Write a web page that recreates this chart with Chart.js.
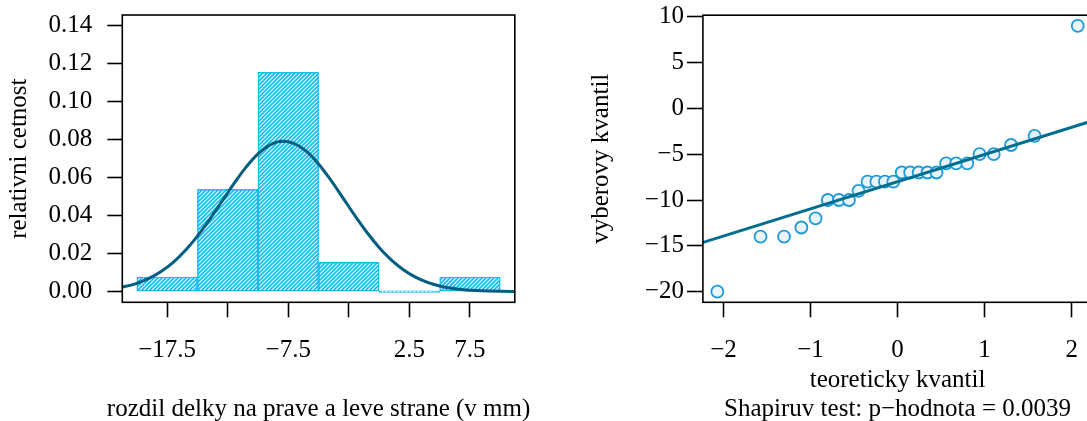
<!DOCTYPE html>
<html>
<head>
<meta charset="utf-8">
<script src="https://cdn.jsdelivr.net/npm/chart.js@4.4.1/dist/chart.umd.min.js"></script>
<style>
  html, body { margin: 0; padding: 0; background: #fff; overflow: hidden; }
  #wrap { position: relative; width: 1087px; height: 421px; overflow: hidden; }
  #histChart { position: absolute; left: 0; top: 0; }
  #qqChart { position: absolute; left: 540px; top: 0; }
</style>
</head>
<body>
<div id="wrap">
  <canvas id="histChart" width="540" height="421"></canvas>
  <canvas id="qqChart" width="560" height="421"></canvas>
</div>
<script>
// histogram (bins of width 5 from -20 to 10)
const binMids = [-17.5, -12.5, -7.5, -2.5, 2.5, 7.5];
const binDensity = [0.0077, 0.0538, 0.1154, 0.0154, 0, 0.0077];
const histXLabels = ['−17.5', '', '−7.5', '', '2.5', '7.5'];
const densTicks = [0, 0.02, 0.04, 0.06, 0.08, 0.10, 0.12, 0.14];
const densLabels = ['0.00', '0.02', '0.04', '0.06', '0.08', '0.10', '0.12', '0.14'];
const histXTitle = 'rozdil delky na prave a leve strane (v mm)';

// normal density curve
const curveX = [-22, -21, -20, -19, -18, -17, -16, -15, -14, -13, -12, -11, -10, -9, -8, -7, -6,
  -5, -4, -3, -2, -1, 0, 1, 2, 3, 4, 5, 6, 7, 8, 9, 10, 11, 12];
const curveY = [0.00157, 0.00268, 0.00440, 0.00696, 0.01057, 0.01543, 0.02166, 0.02923, 0.03792,
  0.04730, 0.05672, 0.06540, 0.07249, 0.07725, 0.07914, 0.07795, 0.07381, 0.06720, 0.05882,
  0.04949, 0.04003, 0.03114, 0.02328, 0.01673, 0.01157, 0.00769, 0.00491, 0.00301, 0.00178,
  0.00101, 0.00055, 0.00029, 0.00015, 0.00007, 0.00003];

// Q-Q plot
const theorQ = [-2.070, -1.574, -1.304, -1.105, -0.942, -0.801, -0.674, -0.558, -0.448, -0.344,
  -0.243, -0.145, -0.048, 0.048, 0.145, 0.243, 0.344, 0.448, 0.558, 0.674, 0.801, 0.942,
  1.105, 1.304, 1.574, 2.070];
const sampleQ = [-20, -14, -14, -13, -12, -10, -10, -10, -9, -8, -8, -8, -8, -7, -7, -7, -7, -7,
  -6, -6, -6, -5, -5, -4, -3, 9];
const qqLineX = [-2.4, 2.4];
const qqLineY = [-15.12, -0.88];
const qqXTicks = [-2, -1, 0, 1, 2];
const qqXLabels = ['−2', '−1', '0', '1', '2'];
const qqYTicks = [-20, -15, -10, -5, 0, 5, 10];
const qqYLabels = ['−20', '−15', '−10', '−5', '0', '5', '10'];

const FONT = "'Liberation Serif', 'Times New Roman', serif";
const BAR_COL = '#12BCF0';
const CURVE_COL = '#005F80';

function hatch(color) {
  const c = document.createElement('canvas');
  c.width = 4; c.height = 4;
  const g = c.getContext('2d');
  g.fillStyle = '#fff';
  g.fillRect(0, 0, 4, 4);
  g.strokeStyle = color;
  g.lineWidth = 1.7;
  g.beginPath();
  g.moveTo(-1, 5); g.lineTo(5, -1);
  g.moveTo(-1, 1); g.lineTo(1, -1);
  g.moveTo(3, 5); g.lineTo(5, 3);
  g.stroke();
  return g.createPattern(c, 'repeat');
}

const boxPlugin = {
  id: 'box',
  afterDraw(chart) {
    const {ctx, chartArea: a} = chart;
    ctx.save();
    ctx.strokeStyle = '#000';
    ctx.lineWidth = 1.6;
    ctx.strokeRect(a.left, a.top, a.right - a.left, a.bottom - a.top);
    ctx.restore();
  }
};

// the histogram's x title is wider than its axis, so it is drawn here
// instead of through the scale title (which would squeeze it)
const histTitlePlugin = {
  id: 'histTitle',
  afterDraw(chart) {
    const {ctx, chartArea: a} = chart;
    ctx.save();
    ctx.font = '25px ' + FONT;
    ctx.fillStyle = '#000';
    ctx.textAlign = 'center';
    ctx.textBaseline = 'middle';
    ctx.fillText(histXTitle, (a.left + a.right) / 2, 409);
    ctx.restore();
  }
};

function axis(opts) {
  return {
    type: 'linear',
    min: opts.min,
    max: opts.max,
    offset: false,
    afterBuildTicks: s => { s.ticks = opts.ticks.map(v => ({value: v})); },
    afterFit: s => {
      if (opts.width) s.width = opts.width;
      if (opts.height) s.height = opts.height;
      s.paddingTop = 0; s.paddingBottom = 0; s.paddingLeft = 0; s.paddingRight = 0;
    },
    ticks: {
      autoSkip: false,
      maxRotation: 0,
      padding: opts.pad,
      color: '#000',
      font: {family: FONT, size: 25},
      callback: (v, i) => opts.labels[i]
    },
    grid: {
      offset: false,
      drawOnChartArea: false,
      drawTicks: true,
      tickLength: opts.tick,
      tickColor: '#000',
      tickWidth: 1.6,
      color: '#000'
    },
    border: {display: false},
    title: {
      display: !!opts.title,
      text: opts.title || '',
      color: '#000',
      font: {family: FONT, size: 25, lineHeight: opts.lh || 1},
      padding: opts.titlePad
    }
  };
}

new Chart(document.getElementById('histChart'), {
  type: 'bar',
  data: {
    datasets: [{
      type: 'line',
      data: curveX.map((x, i) => ({x: x, y: curveY[i]})),
      borderColor: CURVE_COL,
      borderWidth: 3,
      pointRadius: 0,
      cubicInterpolationMode: 'monotone',
      order: 0
    }, {
      type: 'bar',
      data: binMids.map((x, i) => ({x: x, y: binDensity[i]})),
      backgroundColor: hatch(BAR_COL),
      borderColor: BAR_COL,
      borderWidth: 1.5,
      borderSkipped: false,
      minBarLength: 1.5,
      barPercentage: 1,
      categoryPercentage: 1,
      order: 1
    }]
  },
  options: {
    responsive: false,
    animation: false,
    layout: {padding: {top: 15, right: 25.2, left: 0, bottom: 0}},
    plugins: {legend: {display: false}, tooltip: {enabled: false}},
    scales: {
      x: axis({min: -21.2, max: 11.2, ticks: binMids, labels: histXLabels, pad: 18, tick: 15,
        height: 118.7}),
      y: axis({min: -0.0056, max: 0.1456, ticks: densTicks, labels: densLabels, pad: 15, tick: 15,
        width: 122.3, title: 'relativni cetnost', titlePad: {top: 6.5, bottom: 0}})
    }
  },
  plugins: [boxPlugin, histTitlePlugin]
});

new Chart(document.getElementById('qqChart'), {
  type: 'scatter',
  data: {
    datasets: [{
      type: 'line',
      data: qqLineX.map((x, i) => ({x: x, y: qqLineY[i]})),
      borderColor: '#006E8F',
      borderWidth: 3,
      pointRadius: 0,
      order: 0
    }, {
      data: theorQ.map((x, i) => ({x: x, y: sampleQ[i]})),
      pointRadius: 6,
      pointBorderWidth: 1.8,
      borderColor: '#1E9AD6',
      backgroundColor: '#EAF4FC',
      order: 1
    }]
  },
  options: {
    responsive: false,
    animation: false,
    layout: {padding: {top: 15.2, right: 4.5, left: 0, bottom: 0}},
    plugins: {legend: {display: false}, tooltip: {enabled: false}},
    scales: {
      x: axis({min: -2.236, max: 2.236, ticks: qqXTicks, labels: qqXLabels, pad: 18, tick: 15,
        height: 118.7, title: ['teoreticky kvantil', 'Shapiruv test: p−hodnota = 0.0039'],
        lh: 1.16, titlePad: {top: 0, bottom: -2.5}}),
      y: axis({min: -21.16, max: 10.16, ticks: qqYTicks, labels: qqYLabels, pad: 3, tick: 16,
        width: 162.9, title: 'vyberovy kvantil', titlePad: {top: 48.5, bottom: 0}})
    }
  },
  plugins: [boxPlugin]
});
</script>
</body>
</html>
